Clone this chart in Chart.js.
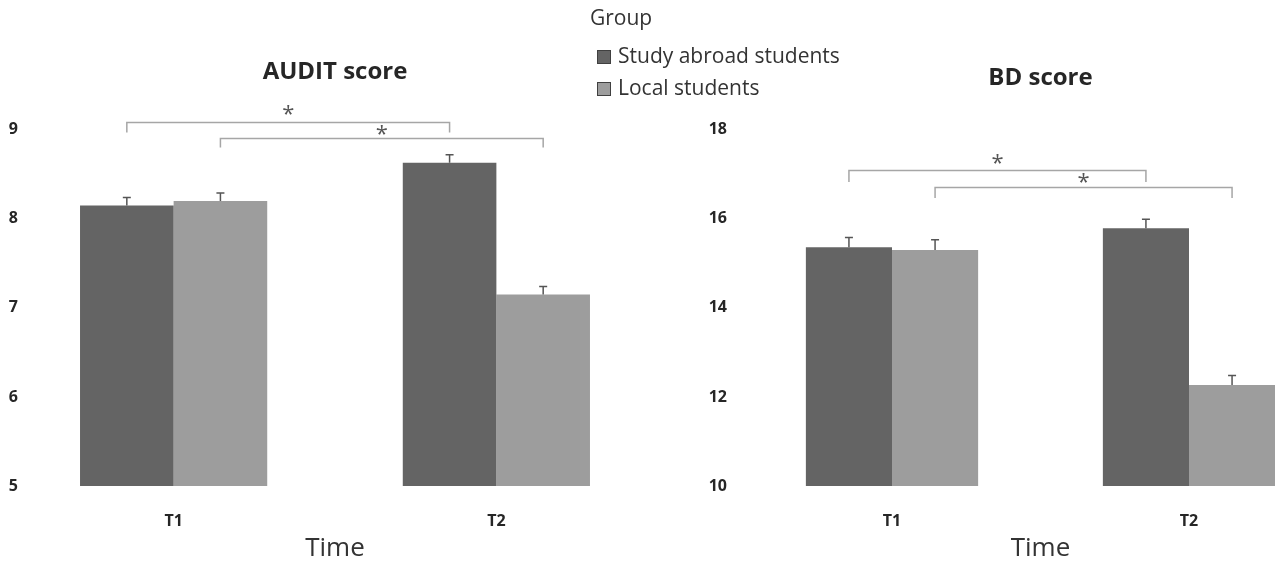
<!DOCTYPE html>
<html>
<head>
<meta charset="utf-8">
<title>AUDIT and BD scores by group</title>
<script src="https://cdn.jsdelivr.net/npm/chart.js@4.4.0/dist/chart.umd.min.js"></script>
<style>
  html, body { margin: 0; padding: 0; background: #ffffff; }
  #wrap { position: relative; width: 1275px; height: 565px; overflow: hidden; background: #ffffff; }
  canvas { position: absolute; top: 0; }
  #auditChart { left: 0; }
  #bdChart { left: 700px; }
</style>
</head>
<body>
<div id="wrap">
  <canvas id="auditChart" width="860" height="565"></canvas>
  <canvas id="bdChart" width="700" height="565"></canvas>
</div>
<script>
// Categories and groups
const timePoints = ['T1', 'T2'];
const groupNames = ['Study abroad students', 'Local students'];

// AUDIT score means and standard errors
const auditStudyAbroad = [8.15, 8.63];
const auditLocal = [8.20, 7.15];
const auditStudyAbroadErr = [0.09, 0.09];
const auditLocalErr = [0.09, 0.09];
const auditTicks = [5, 6, 7, 8, 9];

// BD score means and standard errors
const bdStudyAbroad = [15.36, 15.79];
const bdLocal = [15.30, 12.27];
const bdStudyAbroadErr = [0.22, 0.20];
const bdLocalErr = [0.23, 0.21];
const bdTicks = [10, 12, 14, 16, 18];

const FONT = '"Open Sans", "Liberation Sans", sans-serif';
const DARK = '#646464';
const LIGHT = '#9d9d9d';
const TEXT = '#333333';

Chart.defaults.font.family = FONT;
Chart.defaults.color = TEXT;
Chart.defaults.animation = false;
Chart.defaults.events = [];
Chart.defaults.plugins.legend.display = false;
Chart.defaults.plugins.tooltip.enabled = false;

// Upper error whiskers on each bar
const errorBarPlugin = {
  id: 'errorBars',
  afterDatasetsDraw(chart, args, opts) {
    const { ctx } = chart;
    const yScale = chart.scales.y;
    ctx.save();
    ctx.strokeStyle = opts.color;
    ctx.lineWidth = opts.width;
    chart.data.datasets.forEach((ds, di) => {
      const meta = chart.getDatasetMeta(di);
      meta.data.forEach((bar, i) => {
        const v = ds.data[i].y;
        const yBase = yScale.getPixelForValue(v);
        const yTop = yScale.getPixelForValue(v + ds.errors[i]);
        ctx.beginPath();
        ctx.moveTo(bar.x, yBase);
        ctx.lineTo(bar.x, yTop);
        ctx.moveTo(bar.x - opts.cap, yTop);
        ctx.lineTo(bar.x + opts.cap, yTop);
        ctx.stroke();
      });
    });
    ctx.restore();
  }
};

// Significance brackets joining T1 and T2 of the same group
const bracketPlugin = {
  id: 'sigBrackets',
  afterDatasetsDraw(chart, args, opts) {
    const { ctx } = chart;
    const yScale = chart.scales.y;
    ctx.save();
    opts.items.forEach(b => {
      const meta = chart.getDatasetMeta(b.dataset);
      const x1 = meta.data[0].x;
      const x2 = meta.data[1].x;
      const yLine = Math.round(yScale.getPixelForValue(b.level)) + 0.5;
      const yFoot = yScale.getPixelForValue(b.foot);
      ctx.strokeStyle = opts.color;
      ctx.lineWidth = opts.width;
      ctx.beginPath();
      ctx.moveTo(x1, yFoot);
      ctx.lineTo(x1, yLine);
      ctx.lineTo(x2, yLine);
      ctx.lineTo(x2, yFoot);
      ctx.stroke();
      ctx.fillStyle = opts.starColor;
      ctx.font = opts.starSize + 'px ' + FONT;
      ctx.textAlign = 'center';
      ctx.textBaseline = 'middle';
      ctx.fillText(b.label, (x1 + x2) / 2, yScale.getPixelForValue(b.star) + opts.starSize * 0.27);
    });
    ctx.restore();
  }
};

// Vertical legend with a title, built from the datasets
const groupLegendPlugin = {
  id: 'groupLegend',
  afterDraw(chart, args, opts) {
    if (!opts.show) return;
    const { ctx } = chart;
    ctx.save();
    ctx.fillStyle = TEXT;
    ctx.textBaseline = 'middle';
    ctx.textAlign = 'left';
    ctx.font = opts.titleSize + 'px ' + FONT;
    ctx.fillText(opts.title, opts.titleX, opts.titleY);
    ctx.font = opts.labelSize + 'px ' + FONT;
    chart.data.datasets.forEach((ds, i) => {
      const cy = opts.itemY + i * opts.rowGap;
      ctx.fillStyle = ds.backgroundColor;
      ctx.fillRect(opts.x, cy - opts.box / 2, opts.box, opts.box);
      ctx.strokeStyle = '#404040';
      ctx.lineWidth = 1;
      ctx.strokeRect(opts.x + 0.5, cy - opts.box / 2 + 0.5, opts.box - 1, opts.box - 1);
      ctx.fillStyle = TEXT;
      ctx.fillText(ds.label, opts.x + opts.box + opts.gap, cy);
    });
    ctx.restore();
  }
};

function toPoints(values) {
  return values.map((v, i) => ({ x: i, y: v }));
}

function buildChart(canvasId, cfg) {
  return new Chart(document.getElementById(canvasId), {
    type: 'bar',
    data: {
      datasets: [
        { label: groupNames[0], data: toPoints(cfg.series[0]), errors: cfg.errors[0], backgroundColor: DARK },
        { label: groupNames[1], data: toPoints(cfg.series[1]), errors: cfg.errors[1], backgroundColor: LIGHT }
      ]
    },
    options: {
      responsive: false,
      maintainAspectRatio: false,
      layout: { padding: { left: 0, right: cfg.padRight, top: 0, bottom: 0 } },
      datasets: { bar: { categoryPercentage: 0.58, barPercentage: 1.0, borderWidth: 0 } },
      scales: {
        x: {
          type: 'linear',
          offset: false,
          min: cfg.xMin,
          max: cfg.xMax,
          grid: { display: false, drawTicks: false },
          border: { display: false },
          afterBuildTicks: s => { s.ticks = timePoints.map((_, i) => ({ value: i })); },
          afterFit: s => { s.height = 79; },
          ticks: {
            autoSkip: false,
            maxRotation: 0,
            padding: 26,
            color: '#262626',
            font: { size: 16, weight: 'bold' },
            callback: v => timePoints[v]
          },
          title: {
            display: true,
            text: 'Time',
            color: TEXT,
            font: { size: 26 },
            padding: { top: 0, bottom: 1 }
          }
        },
        y: {
          type: 'linear',
          position: 'left',
          min: cfg.ticks[0],
          max: cfg.ticks[cfg.ticks.length - 1],
          grid: { display: false, drawTicks: false },
          border: { display: false },
          afterBuildTicks: s => { s.ticks = cfg.ticks.map(v => ({ value: v })); },
          afterFit: s => { s.width = cfg.axisWidth; },
          ticks: {
            padding: cfg.tickPad,
            color: '#262626',
            font: { size: 16, weight: 'bold' }
          }
        },
        // empty box on the right, same width as the value axis, keeps the plot centred under the title
        spacer: {
          type: 'linear',
          position: 'right',
          display: true,
          grid: { display: false, drawTicks: false },
          border: { display: false },
          ticks: { display: false },
          afterFit: s => { s.width = cfg.axisWidth; }
        }
      },
      plugins: {
        title: {
          display: true,
          text: cfg.title,
          color: '#262626',
          font: { size: 24, weight: 'bold' },
          padding: { top: cfg.titleTop, bottom: 101 - cfg.titleTop }
        },
        errorBars: { color: '#555555', width: 1.5, cap: 4 },
        sigBrackets: { color: '#a6a6a6', width: 1.5, starColor: '#555555', starSize: 22, items: cfg.brackets },
        groupLegend: cfg.legend
      }
    },
    plugins: [errorBarPlugin, bracketPlugin, groupLegendPlugin]
  });
}

buildChart('auditChart', {
  title: 'AUDIT score',
  titleTop: 58,
  series: [auditStudyAbroad, auditLocal],
  errors: [auditStudyAbroadErr, auditLocalErr],
  ticks: auditTicks,
  axisWidth: 30,
  tickPad: 12,
  padRight: 190,
  xMin: -0.445,
  xMax: 1.445,
  brackets: [
    { dataset: 0, level: 9.09, foot: 8.97, star: 9.24, label: '*' },
    { dataset: 1, level: 8.91, foot: 8.80, star: 9.01, label: '*' }
  ],
  legend: {
    show: true,
    title: 'Group',
    titleSize: 21,
    titleX: 590,
    titleY: 19,
    labelSize: 21,
    x: 597,
    itemY: 57,
    rowGap: 32,
    box: 14,
    gap: 7
  }
});

buildChart('bdChart', {
  title: 'BD score',
  titleTop: 64,
  series: [bdStudyAbroad, bdLocal],
  errors: [bdStudyAbroadErr, bdLocalErr],
  ticks: bdTicks,
  axisWidth: 40,
  tickPad: 13,
  padRight: 19,
  xMin: -0.5118,
  xMax: 1.5118,
  brackets: [
    { dataset: 0, level: 17.10, foot: 16.83, star: 17.37, label: '*' },
    { dataset: 1, level: 16.72, foot: 16.47, star: 16.95, label: '*' }
  ],
  legend: { show: false }
});
</script>
</body>
</html>
